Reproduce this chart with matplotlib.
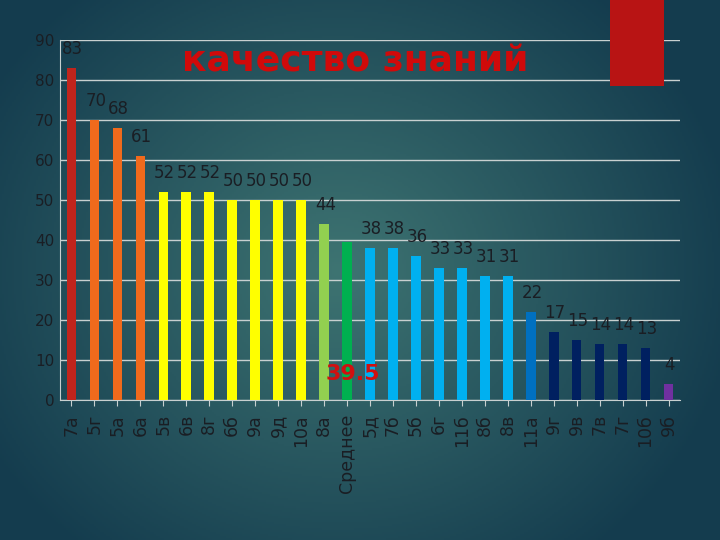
import numpy as np
import matplotlib
matplotlib.use("Agg")
import matplotlib.pyplot as plt
from matplotlib.patches import Rectangle

categories = ["7а", "5г", "5а", "6а", "5в", "6в", "8г", "6б", "9а", "9д", "10а", "8а",
              "Среднее", "5д", "7б", "5б", "6г", "11б", "8б", "8в", "11а", "9г", "9в",
              "7в", "7г", "10б", "9б"]
values = [83, 70, 68, 61, 52, 52, 52, 50, 50, 50, 50, 44, 39.5, 38, 38, 36, 33, 33,
          31, 31, 22, 17, 15, 14, 14, 13, 4]
bar_colors = ["#c0241c", "#f06a1c", "#f06a1c", "#f06a1c",
              "#ffff00", "#ffff00", "#ffff00", "#ffff00", "#ffff00", "#ffff00", "#ffff00",
              "#92d050", "#00b050",
              "#00b0f0", "#00b0f0", "#00b0f0", "#00b0f0", "#00b0f0", "#00b0f0", "#00b0f0",
              "#0070c0",
              "#002060", "#002060", "#002060", "#002060", "#002060",
              "#7030a0"]
yticks = [0, 10, 20, 30, 40, 50, 60, 70, 80, 90]
title = "качество знаний"
avg_label = "39.5"

plt.rcParams['font.family'] = ['DejaVu Sans']
fig = plt.figure(figsize=(7.2, 5.4), dpi=100)

# background gradient
bg = fig.add_axes([0, 0, 1, 1], zorder=-10)
yy, xx = np.mgrid[0:1:270j, 0:1:360j]
d = np.sqrt(((xx - 0.47) / 0.75) ** 2 + ((yy - 0.5) / 0.9) ** 2)
d = np.clip(d / 0.75, 0, 1)
c_in = np.array([0x3e, 0x74, 0x72]) / 255
c_out = np.array([0x14, 0x3c, 0x4e]) / 255
img = c_in[None, None, :] * (1 - d[..., None]) + c_out[None, None, :] * d[..., None]
bg.imshow(img, extent=[0, 1, 0, 1], aspect='auto', origin='upper')
bg.axis('off')

fig.patches.append(Rectangle((610 / 720, 1 - 86 / 540), 54 / 720, 86 / 540,
                             transform=fig.transFigure, facecolor="#b81414",
                             edgecolor="none", zorder=1))

ax = fig.add_axes([60 / 720, 1 - 400 / 540, 620 / 720, 360 / 540])
ax.patch.set_alpha(0)
x = np.arange(len(categories))
ax.bar(x, values, width=0.42, color=bar_colors, zorder=3)
ax.set_xlim(-0.5, len(categories) - 0.5)
ax.set_ylim(0, 90)
ax.set_yticks(yticks)
ax.yaxis.grid(True, color="#c8d0d0", linewidth=1)
ax.set_axisbelow(True)
for s in ["top", "right"]:
    ax.spines[s].set_visible(False)
ax.spines["left"].set_color("#c8d0d0")
ax.spines["bottom"].set_color("#c8d0d0")
ax.tick_params(axis='y', length=0, labelsize=11, labelcolor="#1a1e24", pad=4)
ax.set_xticks(x)
ax.set_xticklabels(categories, rotation=90, fontsize=12.5, color="#1a1e24")
ax.tick_params(axis='x', length=4, color="#c8d0d0", pad=6)

for i, v in enumerate(values):
    if categories[i] == "Среднее":
        continue
    ax.annotate(f"{v:g}", (x[i], v), xytext=(1, 14), textcoords="offset points",
                ha="center", va="center", fontsize=12, color="#1a1e24", zorder=5)

ax.text(x[12] + 0.25, 6.5, avg_label, ha="center", va="center", fontsize=16,
        fontweight="bold", color="#d01010", zorder=6)

fig.text(355 / 720, 1 - 62 / 540, title, ha="center", va="center", fontsize=26,
         fontweight="bold", color="#d00a0a")

fig.savefig("out.png", dpi=100)
